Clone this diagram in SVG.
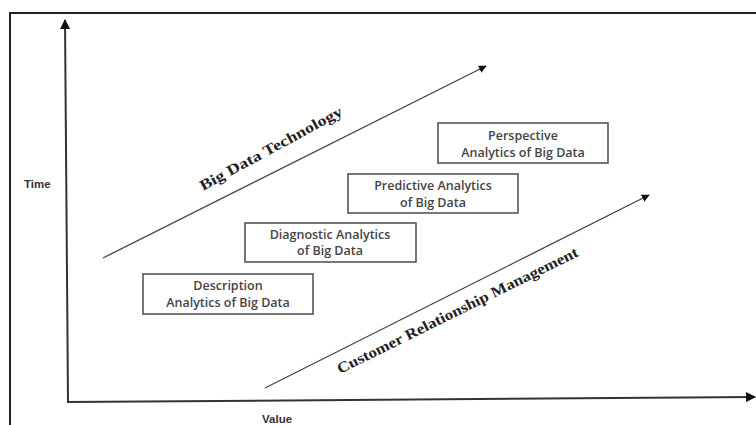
<svg xmlns="http://www.w3.org/2000/svg" width="756" height="425" viewBox="0 0 756 425">
<defs>
<style>
.frame{stroke:#222;stroke-width:2;fill:none}
.axis{stroke:#333;stroke-width:2;fill:none}
.conn{stroke:#444;stroke-width:1.3;fill:none}
.box{fill:#fff;stroke:#555;stroke-width:1.6}
.bt{font-family:"Open Sans","Liberation Sans",sans-serif;font-size:12.5px;font-weight:600;fill:#444;text-anchor:middle}
.lbl{font-family:"Liberation Sans",Arial,sans-serif;font-size:11.5px;font-weight:bold;fill:#333}
.diag{font-family:"Liberation Serif","Times New Roman",serif;font-size:15px;font-weight:bold;fill:#222}
</style>
<marker id="ah" viewBox="0 0 10 10" refX="9" refY="5" markerWidth="8" markerHeight="8" markerUnits="userSpaceOnUse" orient="auto">
<path d="M0,0 L10,5 L0,10 z" fill="#111"/>
</marker>
<marker id="ah2" viewBox="0 0 10 10" refX="9" refY="5" markerWidth="5" markerHeight="5" orient="auto">
<path d="M0,0 L10,5 L0,10 z" fill="#111"/>
</marker>
</defs>
<rect width="756" height="425" fill="#fff"/>
<path class="frame" d="M10,425 L10,13 L756,13"/>
<g id="connectors">
<line class="axis" x1="68" y1="402" x2="65" y2="20" marker-end="url(#ah2)"/>
<line class="axis" x1="67" y1="402" x2="755" y2="397" marker-end="url(#ah2)"/>
<line class="conn" x1="103" y1="258" x2="486" y2="66" marker-end="url(#ah)"/>
<line class="conn" x1="265" y1="388" x2="649" y2="195" marker-end="url(#ah)"/>
</g>
<g id="time-label"><text class="lbl" x="24" y="188">Time</text></g>
<g id="value-label"><text class="lbl" x="262" y="423">Value</text></g>
<g id="big-data-tech"><text class="diag" transform="translate(203,191) rotate(-28.5)" textLength="160" lengthAdjust="spacingAndGlyphs">Big Data Technology</text></g>
<g id="crm"><text class="diag" transform="translate(340,374) rotate(-26.3)" textLength="267" lengthAdjust="spacingAndGlyphs">Customer Relationship Management</text></g>
<g id="perspective">
<rect class="box" x="438" y="123" width="170" height="40"/>
<text class="bt" x="523" y="140">Perspective</text>
<text class="bt" x="523" y="157">Analytics of Big Data</text>
</g>
<g id="predictive">
<rect class="box" x="348" y="174" width="170" height="39"/>
<text class="bt" x="433" y="190">Predictive Analytics</text>
<text class="bt" x="433" y="207">of Big Data</text>
</g>
<g id="diagnostic">
<rect class="box" x="245" y="223" width="171" height="39"/>
<text class="bt" x="330" y="239">Diagnostic Analytics</text>
<text class="bt" x="330" y="255">of Big Data</text>
</g>
<g id="description">
<rect class="box" x="143" y="274" width="170" height="40"/>
<text class="bt" x="228" y="290">Description</text>
<text class="bt" x="228" y="307">Analytics of Big Data</text>
</g>
</svg>
